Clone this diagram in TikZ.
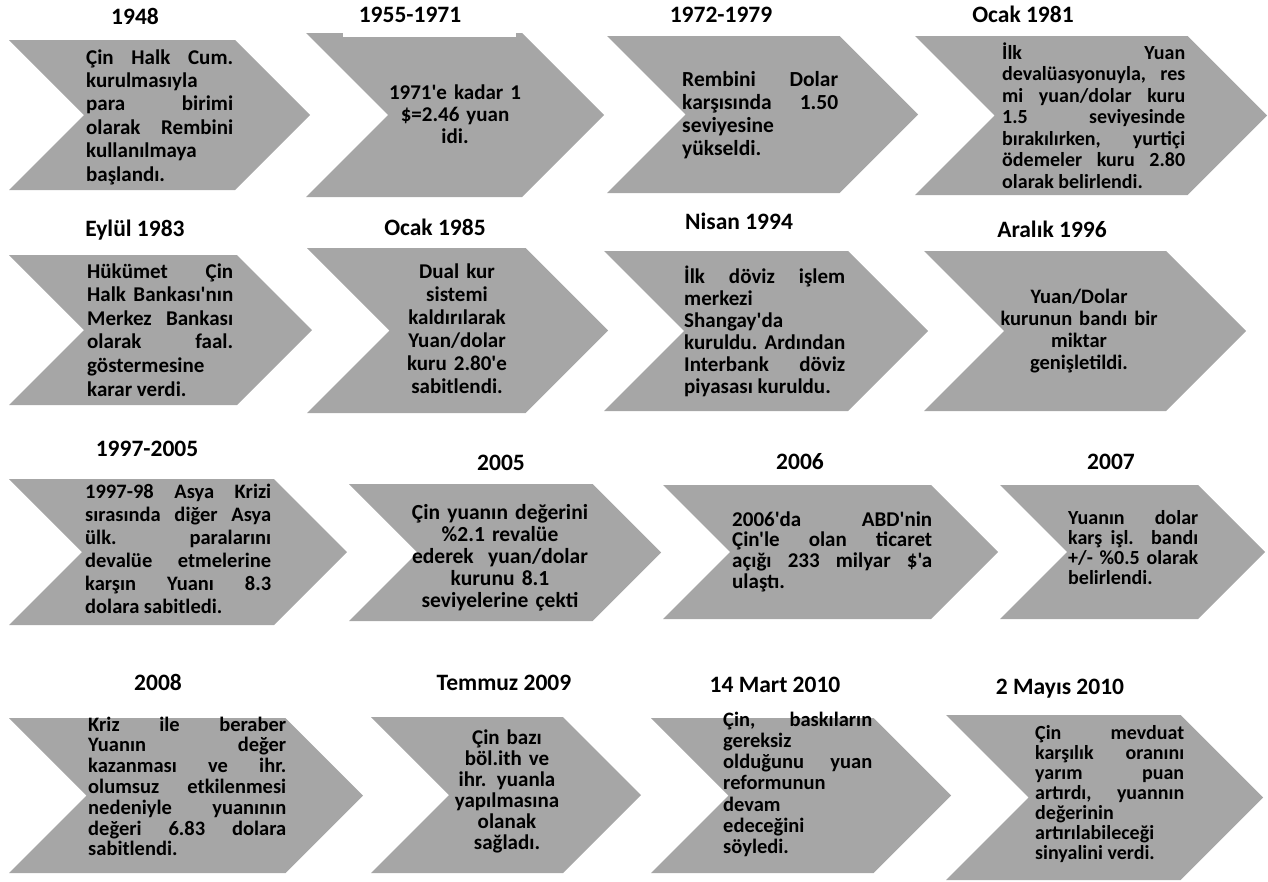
\documentclass[tikz,border=0pt]{standalone}
\usepackage{fontspec}
\newfontfamily\cfont{Carlito}
\definecolor{cgray}{HTML}{A6A6A6}
\hyphenpenalty=10000
\exhyphenpenalty=10000
\tolerance=10000
\hbadness=10000
\hfuzz=20pt
\lineskiplimit=-100pt
\newcommand\mychev[4]{% left, right tip, top, bottom
  \pgfmathsetmacro\hh{(#4-#3)/2}%
  \pgfmathsetmacro\mm{(#3+#4)/2}%
  \fill[cgray] (#1,#3) -- ({#2-\hh},#3) -- (#2,\mm) -- ({#2-\hh},#4) -- (#1,#4) -- ({#1+\hh},\mm) -- cycle;}
\tikzset{
  yr/.style={font=\cfont\fontsize{23.5}{27}\selectfont\bfseries, inner sep=0pt, anchor=base},
  jbody/.style={inner sep=0pt, anchor=base west, align=justify, text width=#1},
  cbody/.style={inner sep=0pt, anchor=base, align=center, text width=240pt},
  fs/.style 2 args={font=\cfont\fontsize{#1}{#2}\selectfont\bfseries}
}
\begin{document}
\begin{tikzpicture}[x=1pt,y=-1pt]
\useasboundingbox (0,0) rectangle (1268,881);
% chevrons
\mychev{9}{310}{40}{190}
\mychev{306}{604}{33}{197}
\mychev{607}{918}{36}{193}
\mychev{915}{1267}{36}{195}
\mychev{9}{312}{255}{405}
\mychev{307}{608}{248}{413}
\mychev{604}{928}{251}{411}
\mychev{924}{1246}{251}{411}
\mychev{9}{347}{479}{625}
\mychev{349}{661}{484}{621}
\mychev{663}{998}{485}{619}
\mychev{1000}{1265}{485}{619}
\mychev{9}{363}{718}{873}
\mychev{371}{641}{717}{873}
\mychev{651}{951}{718}{873}
\mychev{946}{1263}{715}{880}
\fill[white] (343,30) rectangle (516,36.5);
% year labels
\node[yr] (t1) at (135,24.5) {1948};
\node[yr] (t2) at (410,22.5) {1955-1971};
\node[yr] (t3) at (721,22.5) {1972-1979};
\node[yr] (t4) at (1023,22.5) {Ocak 1981};
\node[yr] (t5) at (135,236.5) {Eylül 1983};
\node[yr] (t6) at (435,235.5) {Ocak 1985};
\node[yr] (t7) at (739,229.5) {Nisan 1994};
\node[yr] (t8) at (1052,237.5) {Aralık 1996};
\node[yr] (t9) at (147,456.5) {1997-2005};
\node[yr] (t10) at (501,470.5) {2005};
\node[yr] (t11) at (800,469.5) {2006};
\node[yr] (t12) at (1111,469.5) {2007};
\node[yr] (t13) at (158,690.5) {2008};
\node[yr] (t14) at (504,690.5) {Temmuz 2009};
\node[yr] (t15) at (775,692.5) {14 Mart 2010};
\node[yr] (t16) at (1060,694.5) {2 Mayıs 2010};
% texts
\node[jbody=147pt, fs={21}{23.4}] (b1) at (86,64) {Çin Halk Cum.\linebreak kurulmasıyla\linebreak para birimi\linebreak olarak Rembini\linebreak kullanılmaya\linebreak başlandı.};
\node[cbody, fs={21}{22}] (b2) at (455,99) {1971'e kadar 1\\ \$=2.46 yuan\\ idi.};
\node[jbody=156pt, fs={21.5}{23}] (b3) at (682,86) {Rembini Dolar\linebreak karşısında 1.50\linebreak seviyesine\linebreak yükseldi.};
\node[jbody=183pt, fs={20}{21.5}] (b4) at (1002,59) {İlk Yuan\linebreak devalüasyonuyla, res\linebreak mi yuan/dolar kuru\linebreak 1.5 seviyesinde\linebreak bırakılırken, yurtiçi\linebreak ödemeler kuru 2.80\linebreak olarak belirlendi.};
\node[jbody=146pt, fs={21}{23.6}] (b5) at (87,278) {Hükümet Çin\linebreak Halk Bankası'nın\linebreak Merkez Bankası\linebreak olarak faal.\linebreak göstermesine\linebreak karar verdi.};
\node[cbody, fs={21}{23}] (b6) at (457,278) {Dual kur\\ sistemi\\ kaldırılarak\\ Yuan/dolar\\ kuru 2.80'e\\ sabitlendi.};
\node[jbody=161pt, fs={21}{22}] (b7) at (684,283) {İlk döviz işlem\linebreak merkezi\linebreak Shangay'da\linebreak kuruldu. Ardından\linebreak Interbank döviz\linebreak piyasası kuruldu.};
\node[cbody, fs={20.5}{22}] (b8) at (1079,303) {Yuan/Dolar\\ kurunun bandı bir\\ miktar\\ genişletildi.};
\node[jbody=186pt, fs={20.5}{23}] (b9) at (85,498) {1997-98 Asya Krizi\linebreak sırasında diğer Asya\linebreak ülk. paralarını\linebreak devalüe etmelerine\linebreak karşın Yuanı 8.3\linebreak dolara sabitledi.};
\node[cbody, fs={21.5}{22}] (b10) at (500,519) {Çin yuanın değerini\\ \%2.1 revalüe\\ ederek\ \ yuan/dolar\\ kurunu 8.1\\ seviyelerine çekti};
\node[jbody=200pt, fs={21}{20.7}] (b11) at (732,526) {2006'da ABD'nin\linebreak Çin'le olan ticaret\linebreak açığı 233 milyar \$'a\linebreak ulaştı.};
\node[jbody=130pt, fs={20}{20}] (b12) at (1068,524) {Yuanın dolar\linebreak karş işl. bandı\linebreak +/- \%0.5 olarak\linebreak belirlendi.};
\node[jbody=198pt, fs={20.5}{20.8}] (b13) at (88,731) {Kriz ile beraber\linebreak Yuanın değer\linebreak kazanması ve ihr.\linebreak olumsuz etkilenmesi\linebreak nedeniyle yuanının\linebreak değeri 6.83 dolara\linebreak sabitlendi.};
\node[cbody, fs={21}{21}] (b14) at (507,744) {Çin bazı\\ böl.ith ve\\ ihr. yuanla\\ yapılmasına\\ olanak\\ sağladı.};
\node[jbody=149pt, fs={20.5}{21.3}] (b15) at (723,726) {Çin, baskıların\linebreak gereksiz\linebreak olduğunu yuan\linebreak reformunun\linebreak devam\linebreak edeceğini\linebreak söyledi.};
\node[jbody=149pt, fs={20}{20}] (b16) at (1035,739) {Çin mevduat\linebreak karşılık oranını\linebreak yarım puan\linebreak artırdı, yuannın\linebreak değerinin\linebreak artırılabileceği\linebreak sinyalini verdi.};
\end{tikzpicture}
\end{document}
